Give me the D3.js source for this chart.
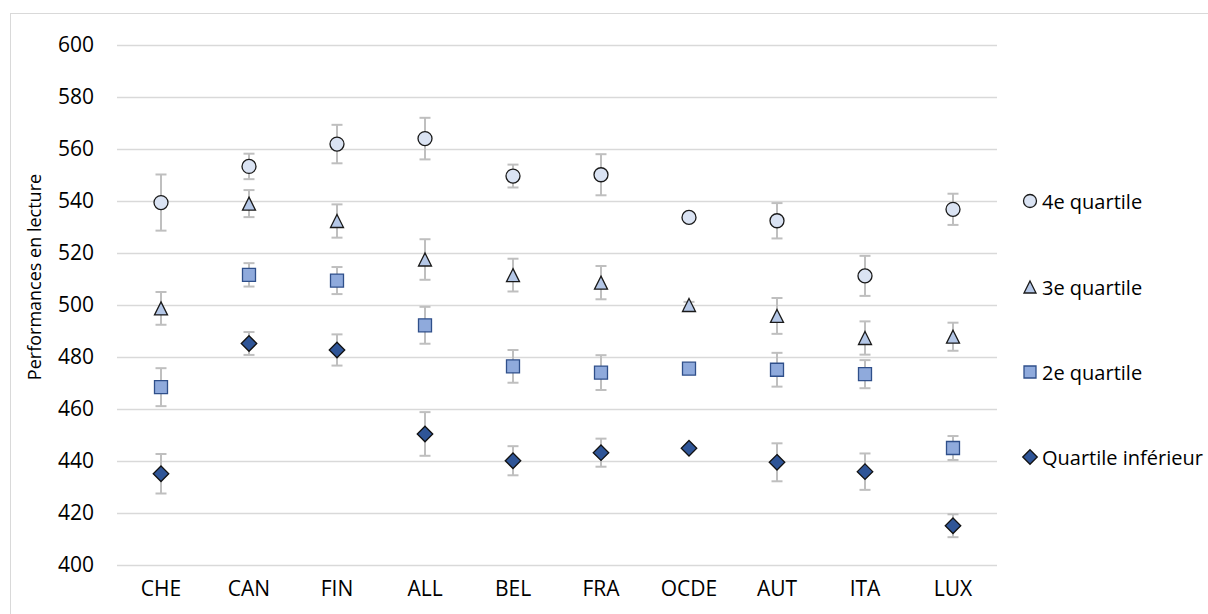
<!DOCTYPE html>
<html>
<head>
<meta charset="utf-8">
<script src="https://cdn.jsdelivr.net/npm/d3@7"></script>
<style>
  html, body { margin: 0; padding: 0; background: #fff; }
  svg { display: block; }
  text { font-family: "Open Sans", sans-serif; fill: #000; }
</style>
</head>
<body>
<svg id="chart" width="1208" height="614"></svg>
<script>
// ---- Data ----
const categories = ["CHE", "CAN", "FIN", "ALL", "BEL", "FRA", "OCDE", "AUT", "ITA", "LUX"];
const seriesNames = ["4e quartile", "3e quartile", "2e quartile", "Quartile inférieur"];
const q4 = [539.4, 553.3, 561.9, 564.0, 549.6, 550.1, 533.7, 532.4, 511.2, 536.8];
const q4err = [10.8, 4.9, 7.4, 8.0, 4.4, 7.9, 0.5, 6.8, 7.7, 6.0];
const q3 = [498.7, 539.0, 532.3, 517.5, 511.5, 508.6, 500.0, 495.8, 487.3, 487.8];
const q3err = [6.3, 5.2, 6.4, 7.8, 6.3, 6.4, 1.2, 6.9, 6.4, 5.4];
const q2 = [468.4, 511.6, 509.4, 492.2, 476.4, 474.0, 475.5, 475.1, 473.4, 445.0];
const q2err = [7.3, 4.5, 5.2, 7.1, 6.3, 6.7, 0.8, 6.5, 5.4, 4.6];
const q1 = [435.1, 485.2, 482.7, 450.4, 440.1, 443.2, 444.9, 439.5, 435.9, 415.1];
const q1err = [7.6, 4.4, 6.0, 8.4, 5.6, 5.4, 0.8, 7.3, 7.0, 4.4];
const yTicks = [400, 420, 440, 460, 480, 500, 520, 540, 560, 580, 600];
const yTitle = "Performances en lecture";

// ---- Layout ----
const svg = d3.select("#chart");
const plot = { left: 117, right: 997, top: 45, bottom: 565 };

svg.append("rect")
  .attr("x", 10.5).attr("y", 13.5)
  .attr("width", 1400).attr("height", 800)
  .attr("fill", "#fff").attr("stroke", "#d9d9d9").attr("stroke-width", 1);

const x = d3.scaleBand().domain(categories).range([plot.left, plot.right]).padding(0);
const y = d3.scaleLinear().domain([400, 600]).range([plot.bottom, plot.top]);

// gridlines + y labels via axis
const yAxis = d3.axisLeft(y).tickValues(yTicks).tickSize(-(plot.right - plot.left)).tickPadding(23);
const gy = svg.append("g").attr("transform", `translate(${plot.left},0)`).call(yAxis);
gy.select(".domain").remove();
gy.selectAll(".tick line").attr("stroke", "#d9d9d9").attr("stroke-width", 1.5);
gy.selectAll(".tick text").attr("font-size", 21).attr("font-family", "Open Sans, sans-serif").attr("fill", "#000");

// x labels
const xAxis = d3.axisBottom(x).tickSize(0).tickPadding(16);
const gx = svg.append("g").attr("transform", `translate(0,${plot.bottom})`).call(xAxis);
gx.select(".domain").remove();
gx.selectAll(".tick text").attr("font-size", 21).attr("font-family", "Open Sans, sans-serif").attr("fill", "#000");

// y title
svg.append("text")
  .attr("transform", "translate(34,277) rotate(-90)")
  .attr("text-anchor", "middle").attr("dominant-baseline", "central")
  .attr("font-size", 18)
  .text(yTitle);

// ---- Series ----
const styles = [
  { name: seriesNames[0], vals: q4, errs: q4err, shape: "circle", fill: "#dae3f3", stroke: "#1a1a1a" },
  { name: seriesNames[1], vals: q3, errs: q3err, shape: "triangle", fill: "#b4c7e7", stroke: "#1a1a1a" },
  { name: seriesNames[2], vals: q2, errs: q2err, shape: "square", fill: "#8faadc", stroke: "#2f4f8a" },
  { name: seriesNames[3], vals: q1, errs: q1err, shape: "diamond", fill: "#2f5597", stroke: "#111" }
];

function markerPath(shape, s) {
  const h = s / 2;
  switch (shape) {
    case "triangle": return `M0,${-h}L${h},${h}L${-h},${h}Z`;
    case "square": return `M${-h},${-h}H${h}V${h}H${-h}Z`;
    case "diamond": return `M0,${-h}L${h},0L0,${h}L${-h},0Z`;
  }
  return "";
}

function drawMarker(g, st, cx, cy, size) {
  if (st.shape === "circle") {
    g.append("circle").attr("cx", cx).attr("cy", cy).attr("r", size / 2)
      .attr("fill", st.fill).attr("stroke", st.stroke).attr("stroke-width", 1.3);
  } else {
    const s = st.shape === "diamond" ? size + 1.5 : size - 1;
    g.append("path").attr("transform", `translate(${cx},${cy})`)
      .attr("d", markerPath(st.shape, s))
      .attr("fill", st.fill).attr("stroke", st.stroke).attr("stroke-width", 1.3)
      .attr("stroke-linejoin", "miter");
  }
}

const cx = c => x(c) + x.bandwidth() / 2;
const capW = 11;

// error bars (behind markers)
const gErr = svg.append("g");
styles.forEach(st => {
  categories.forEach((c, i) => {
    const v = st.vals[i], e = st.errs[i];
    const x0 = cx(c), yt = y(v + e), yb = y(v - e);
    gErr.append("line").attr("x1", x0).attr("x2", x0).attr("y1", yt).attr("y2", yb)
      .attr("stroke", "#bfbfbf").attr("stroke-width", 2);
    [yt, yb].forEach(yy => gErr.append("line")
      .attr("x1", x0 - capW / 2).attr("x2", x0 + capW / 2).attr("y1", yy).attr("y2", yy)
      .attr("stroke", "#bfbfbf").attr("stroke-width", 2));
  });
});

// markers
const gMk = svg.append("g");
styles.forEach(st => {
  categories.forEach((c, i) => drawMarker(gMk, st, cx(c), y(st.vals[i]), 14));
});

// ---- Legend ----
const legendY = [201, 287, 372, 457];
const gLeg = svg.append("g");
styles.forEach((st, i) => {
  drawMarker(gLeg, st, 1030, legendY[i], 13);
  gLeg.append("text").attr("x", 1042).attr("y", legendY[i])
    .attr("dominant-baseline", "central").attr("font-size", 20)
    .text(st.name);
});
</script>
</body>
</html>
